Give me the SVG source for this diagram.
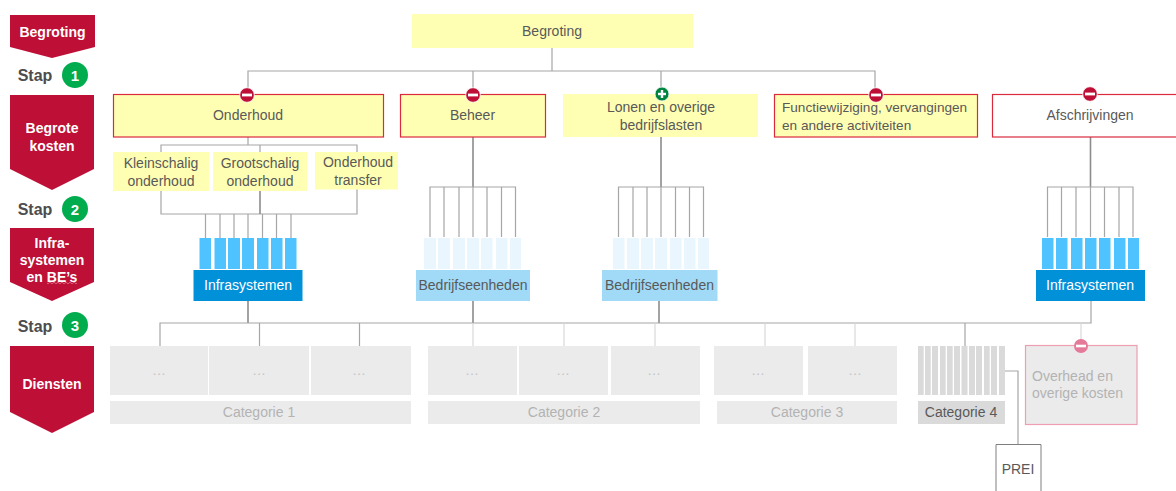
<svg xmlns="http://www.w3.org/2000/svg" width="1176" height="491" viewBox="0 0 1176 491">
<style>
text{font-family:"Liberation Sans",Arial,sans-serif;font-size:14px;fill:#595959;text-anchor:middle}
.ban{fill:#BE0F37}
.bt{fill:#fff;font-weight:700}
.st{fill:#4D4D4D;font-weight:700;font-size:16px}
.ct{fill:#fff;font-weight:700;font-size:15px}
.go{fill:#00AC4E}
.y{fill:#FFFFB3}
.yr{fill:#FFFFB3;stroke:#DB2A3C;stroke-width:1.2}
.wr{fill:#fff;stroke:#DB2A3C;stroke-width:1.2}
.l{fill:none;stroke:#A6A6A6;stroke-width:1.2}
.d{fill:none;stroke:#8C8C8C;stroke-width:1.6}
.ll{fill:none;stroke:#D9D9D9;stroke-width:1.2}
.bs{fill:#4FC3FF}
.bp{fill:#EAF6FD}
.bb{fill:#0091D9}
.bl{fill:#A0DAF7}
.g{fill:#EBEBEB}
.g2{fill:#DADADA}
.gt{fill:#B3B3B3}
.e{fill:#C4C4C4}
.w{fill:#fff}
.f{font-size:13.6px;text-anchor:start}
</style>
<defs>
<g id="minus"><circle r="7.3" fill="#BE0F37" stroke="#fff" stroke-width="0.8"/><rect x="-5" y="-1.4" width="10" height="2.8" fill="#fff"/></g>
<g id="plus"><circle r="7" fill="#00853E" stroke="#fff" stroke-width="0.8"/><rect x="-4" y="-1.2" width="8" height="2.4" fill="#fff"/><rect x="-1.2" y="-4" width="2.4" height="8" fill="#fff"/></g>
<g id="minusp"><circle r="7" fill="#E4799A"/><rect x="-5" y="-1.3" width="10" height="2.6" fill="#fff"/></g>
</defs>

<g id="connectors">
<path class="l" d="M552 48V71M248 95V71H875V95M473 71V95M661 71V94"/>
<path class="l" d="M248 137V145M161 152V145H357V152M260 145V152"/>
<path class="l" d="M161 191V214H357V189"/>
<path class="d" d="M260 191V214"/>
<path class="l" d="M205.500 214V238M220 214V238M234 214V238M248 214V238M262.500 214V238M276.500 214V238M291 214V238"/>
<path class="d" d="M473 137V187M661 137V187M1090.500 137V187"/>
<path class="l" d="M430 237V187H515.500V237M444 187V237M459 187V237M473 187V237M487 187V237M501.500 187V237"/>
<path class="l" d="M618.500 237V187H703.500V237M633 187V237M647 187V237M661 187V237M675.500 187V237M689.500 187V237"/>
<path class="l" d="M1047.500 237V187H1133V237M1061.500 187V237M1076 187V237M1090.500 187V237M1104.500 187V237M1119 187V237"/>
<path class="d" d="M248 301V323M473 301V323M659 301V323"/>
<path class="l" d="M1091 301V323H160V346M259.500 323V346M359.500 323V346M965 323V346"/>
<path class="ll" d="M473 323V346M564 323V346M655 323V346M765 323V346M855 323V346M1081 323V340"/>
<path class="l" d="M1005 371H1018V444"/>
</g>

<g id="banner-begroting"><polygon class="ban" points="10,15 95,15 95,47 52,58 10,47"/><text class="bt" x="52.500" y="37">Begroting</text></g>
<g id="stap-1"><text class="st" x="35" y="81">Stap</text><circle class="go" cx="75" cy="75" r="13"/><text class="ct" x="75" y="81">1</text></g>
<g id="banner-begrote-kosten"><polygon class="ban" points="10,95 94,95 94,169 52,190 10,169"/><text class="bt" x="52" y="133">Begrote</text><text class="bt" x="52" y="151">kosten</text></g>
<g id="stap-2"><text class="st" x="35" y="215">Stap</text><circle class="go" cx="75" cy="209" r="13"/><text class="ct" x="75" y="215">2</text></g>
<g id="banner-infra"><polygon class="ban" points="10,228 94,228 94,282 52,301 10,282"/><text class="bt" x="52" y="248">Infra-</text><text class="bt" x="52" y="265">systemen</text><text class="bt" x="52" y="282">en BE’s</text><path d="M47 283q1 1.500 2 0t2 0t2 0t2 0t2 0t2 0t2 0t2 0t2 0t2 0t2 0t2 0t2 0t2 0t2 0" fill="none" stroke="#E8798F" stroke-width="0.8"/></g>
<g id="stap-3"><text class="st" x="35" y="332">Stap</text><circle class="go" cx="75" cy="325" r="13"/><text class="ct" x="75" y="331">3</text></g>
<g id="banner-diensten"><polygon class="ban" points="10,346 94,346 94,412 52,433 10,412"/><text class="bt" x="52" y="389">Diensten</text></g>

<g id="begroting"><rect class="y" x="412" y="14" width="281" height="34"/><text x="552" y="36">Begroting</text></g>

<g id="onderhoud"><rect class="yr" x="113.500" y="94.500" width="270" height="42.500"/><text x="248" y="120">Onderhoud</text><use href="#minus" x="247" y="95"/></g>
<g id="beheer"><rect class="yr" x="400.500" y="94.500" width="145" height="42.500"/><text x="472.500" y="120">Beheer</text><use href="#minus" x="473" y="95"/></g>
<g id="lonen"><rect class="y" x="563" y="94" width="195" height="43"/><text x="661" y="112">Lonen en overige</text><text x="661" y="130">bedrijfslasten</text><use href="#plus" x="662" y="94"/></g>
<g id="functiewijziging"><rect class="yr" x="774.500" y="94.500" width="203" height="42.500"/><text class="f" x="782" y="112">Functiewijziging, vervangingen</text><text class="f" x="782" y="130">en andere activiteiten</text><use href="#minus" x="876" y="95"/></g>
<g id="afschrijvingen"><rect class="wr" x="992.500" y="94.500" width="190" height="42.500"/><text x="1090" y="120">Afschrijvingen</text><use href="#minus" x="1090" y="94"/></g>

<g id="kleinschalig"><rect class="y" x="113" y="152" width="96" height="39"/><text x="161" y="168">Kleinschalig</text><text x="161" y="186">onderhoud</text></g>
<g id="grootschalig"><rect class="y" x="213" y="152" width="94" height="39"/><text x="260" y="168">Grootschalig</text><text x="260" y="186">onderhoud</text></g>
<g id="transfer"><rect class="y" x="315" y="152" width="83" height="37.500"/><text x="358" y="167">Onderhoud</text><text x="358" y="185">transfer</text></g>

<g id="infrasystemen-1">
<rect class="bs" x="199.500" y="238" width="11.500" height="31"/><rect class="bs" x="214.500" y="238" width="11.500" height="31"/><rect class="bs" x="228" y="238" width="12" height="31"/><rect class="bs" x="242" y="238" width="12" height="31"/><rect class="bs" x="257" y="238" width="11.500" height="31"/><rect class="bs" x="271" y="238" width="11.500" height="31"/><rect class="bs" x="285" y="238" width="11.500" height="31"/>
<rect class="bb" x="193.500" y="270" width="109" height="31"/><text class="w" x="248" y="290">Infrasystemen</text></g>
<g id="bedrijfseenheden-1">
<rect class="bp" x="424" y="238" width="12" height="31"/><rect class="bp" x="438" y="238" width="12" height="31"/><rect class="bp" x="453" y="238" width="12" height="31"/><rect class="bp" x="467" y="238" width="12" height="31"/><rect class="bp" x="481" y="238" width="11.500" height="31"/><rect class="bp" x="496" y="238" width="11.500" height="31"/><rect class="bp" x="510" y="238" width="11" height="31"/>
<rect class="bl" x="416" y="270" width="114" height="31"/><text x="473" y="290">Bedrijfseenheden</text></g>
<g id="bedrijfseenheden-2">
<rect class="bp" x="613" y="238" width="11.500" height="31"/><rect class="bp" x="627" y="238" width="12" height="31"/><rect class="bp" x="641" y="238" width="12" height="31"/><rect class="bp" x="655" y="238" width="12" height="31"/><rect class="bp" x="670" y="238" width="11.500" height="31"/><rect class="bp" x="684" y="238" width="11.500" height="31"/><rect class="bp" x="698" y="238" width="11" height="31"/>
<rect class="bl" x="602" y="270" width="115.500" height="31"/><text x="659.500" y="290">Bedrijfseenheden</text></g>
<g id="infrasystemen-2">
<rect class="bs" x="1042" y="238" width="11.500" height="31"/><rect class="bs" x="1056" y="238" width="11.500" height="31"/><rect class="bs" x="1071" y="238" width="11.500" height="31"/><rect class="bs" x="1085" y="238" width="11.500" height="31"/><rect class="bs" x="1099" y="238" width="11.500" height="31"/><rect class="bs" x="1114" y="238" width="11.500" height="31"/><rect class="bs" x="1128" y="238" width="11" height="31"/>
<rect class="bb" x="1036" y="270" width="109" height="31"/><text class="w" x="1090" y="290">Infrasystemen</text></g>

<g id="categorie-1">
<rect class="g" x="110" y="346" width="98" height="49"/><text class="e" x="159" y="375">…</text>
<rect class="g" x="209" y="346" width="100" height="49"/><text class="e" x="259" y="375">…</text>
<rect class="g" x="311" y="346" width="100" height="49"/><text class="e" x="359" y="375">…</text>
<rect class="g" x="110" y="401" width="301" height="23"/><text class="gt" x="259" y="417">Categorie 1</text></g>
<g id="categorie-2">
<rect class="g" x="428" y="346" width="89" height="49"/><text class="e" x="472" y="375">…</text>
<rect class="g" x="519" y="346" width="89" height="49"/><text class="e" x="563" y="375">…</text>
<rect class="g" x="611" y="346" width="89" height="49"/><text class="e" x="654" y="375">…</text>
<rect class="g" x="428" y="401" width="272" height="23"/><text class="gt" x="564" y="417">Categorie 2</text></g>
<g id="categorie-3">
<rect class="g" x="714" y="346" width="89" height="49"/><text class="e" x="758" y="375">…</text>
<rect class="g" x="808" y="346" width="89" height="49"/><text class="e" x="855" y="375">…</text>
<rect class="g" x="717" y="401" width="180" height="23"/><text class="gt" x="807" y="417">Categorie 3</text></g>
<g id="categorie-4">
<rect class="g2" x="918" y="346" width="5.700" height="49"/><rect class="g2" x="925" y="346" width="5.700" height="49"/><rect class="g2" x="932" y="346" width="6" height="49"/><rect class="g2" x="940" y="346" width="5.700" height="49"/><rect class="g2" x="947" y="346" width="5.700" height="49"/><rect class="g2" x="954" y="346" width="6" height="49"/><rect class="g2" x="961.500" y="346" width="6" height="49"/><rect class="g2" x="969" y="346" width="6" height="49"/><rect class="g2" x="976" y="346" width="6" height="49"/><rect class="g2" x="984" y="346" width="5.700" height="49"/><rect class="g2" x="991" y="346" width="6" height="49"/><rect class="g2" x="999" y="346" width="6" height="49"/>
<rect class="g2" x="918" y="401" width="87" height="23"/><text x="961" y="417">Categorie 4</text></g>
<g id="overhead"><rect class="g" x="1025.500" y="345.500" width="111.500" height="79" stroke="#EE9DB3" stroke-width="1.2"/><text class="gt" x="1032" y="381" style="text-anchor:start">Overhead en</text><text class="gt" x="1032" y="398" style="text-anchor:start">overige kosten</text><use href="#minusp" x="1081" y="346"/></g>
<g id="prei"><path d="M996 491V444.500H1041V491" fill="#fff" stroke="#7F7F7F" stroke-width="1"/><text x="1018" y="474">PREI</text></g>
</svg>
